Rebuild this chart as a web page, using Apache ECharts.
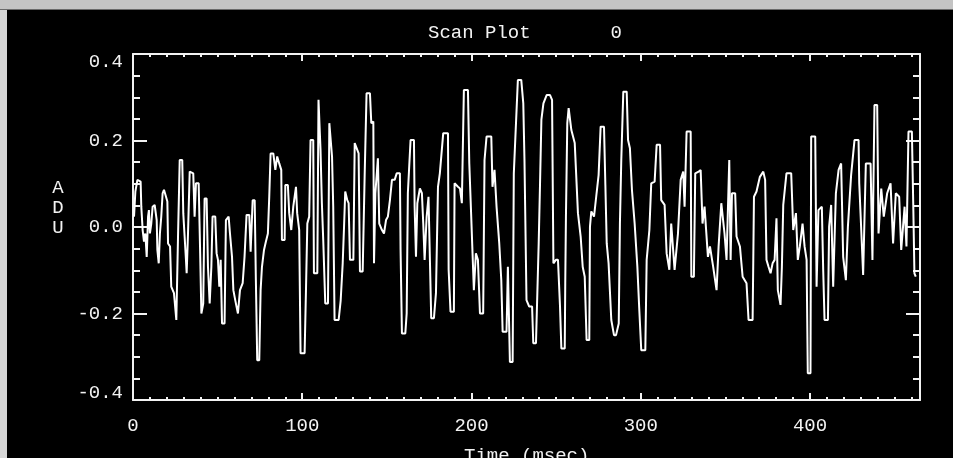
<!DOCTYPE html>
<html>
<head>
<meta charset="utf-8">
<script src="https://cdn.jsdelivr.net/npm/echarts@6/dist/echarts.min.js"></script>
<style>
  html, body { margin: 0; padding: 0; background: #000; }
  #chart { width: 953px; height: 458px; }
</style>
</head>
<body>
<div id="chart"></div>
<script>
// Scan trace: time in msec and signal in ADU
const timeMs = [
  0.6, 1.4, 2.6, 4.5, 4.9, 5.7, 6.5, 7.3, 8.1, 8.9, 9.4, 10.0, 10.8, 11.6, 12.8, 14.0, 14.4, 15.2, 15.9, 16.7,
  17.5, 18.3, 19.5, 20.3, 20.7, 21.9, 22.6, 24.2, 25.6, 26.6, 27.6, 29.1, 29.7, 30.5, 31.3, 31.7, 32.5, 33.5, 35.6, 36.4,
  37.2, 38.8, 39.6, 40.4, 41.5, 42.3, 43.5, 44.3, 45.3, 46.3, 47.0, 48.6, 49.4, 50.2, 51.0, 51.8, 52.6, 54.1, 54.9, 56.5,
  57.3, 58.5, 59.3, 60.4, 62.0, 63.2, 64.8, 65.9, 67.1, 68.7, 69.5, 70.7, 71.9, 72.6, 73.4, 74.6, 75.4, 76.2, 77.4, 78.5,
  79.7, 80.5, 81.3, 82.9, 84.1, 85.2, 86.4, 87.6, 88.0, 89.6, 90.0, 91.5, 92.3, 93.5, 94.7, 96.3, 97.0, 98.2, 99.0, 101.4,
  102.2, 103.0, 104.1, 104.9, 106.5, 106.9, 108.9, 109.6, 110.4, 110.8, 111.6, 112.4, 113.6, 115.2, 116.0, 116.8, 117.6, 118.3, 119.1, 121.5,
  122.7, 123.9, 124.7, 125.4, 126.6, 127.4, 128.2, 130.2, 131.0, 132.1, 133.3, 134.1, 135.7, 136.9, 138.0, 140.0, 140.8, 142.0, 142.4, 143.2,
  144.7, 145.5, 147.1, 148.3, 149.5, 150.6, 151.8, 153.0, 154.6, 155.8, 157.7, 158.1, 158.9, 160.9, 161.7, 162.4, 163.2, 164.0, 166.0, 166.4,
  167.2, 168.0, 169.5, 170.7, 171.5, 172.3, 173.5, 174.6, 176.2, 177.8, 179.0, 180.2, 181.3, 183.3, 186.1, 186.5, 187.6, 189.6, 190.0, 192.0,
  193.2, 194.3, 195.5, 197.9, 198.7, 199.8, 201.4, 202.6, 203.8, 205.0, 206.9, 207.7, 208.9, 211.7, 212.4, 213.6, 214.8, 216.4, 217.6, 218.4,
  220.7, 221.5, 222.7, 224.3, 225.0, 226.2, 227.4, 229.4, 230.6, 231.3, 232.5, 234.1, 235.8, 236.5, 238.1, 238.9, 239.7, 240.5, 241.3, 242.5,
  244.4, 246.4, 247.6, 248.4, 249.9, 251.1, 252.3, 253.1, 255.1, 255.4, 255.8, 256.6, 257.4, 259.0, 261.0, 262.9, 264.5, 265.7, 266.9, 268.0,
  269.6, 270.0, 270.8, 272.4, 273.9, 275.1, 276.3, 278.3, 279.1, 279.9, 281.0, 282.6, 284.2, 285.4, 287.0, 287.7, 288.5, 289.7, 291.7, 292.5,
  293.6, 294.8, 296.4, 298.0, 299.1, 300.3, 302.7, 303.5, 305.1, 306.2, 308.2, 309.4, 311.4, 312.1, 314.1, 315.3, 316.9, 318.0, 320.0, 322.0,
  323.6, 325.1, 325.9, 327.1, 329.5, 329.9, 331.4, 332.2, 334.2, 335.4, 336.5, 337.7, 339.7, 340.9, 342.8, 344.8, 346.0, 347.6, 349.5, 350.7,
  352.3, 353.1, 353.9, 355.8, 356.6, 358.6, 360.2, 362.5, 363.7, 366.1, 366.5, 366.9, 368.4, 370.4, 372.4, 373.5, 374.3, 375.5, 376.7, 377.9,
  379.1, 380.2, 381.0, 382.6, 383.4, 384.2, 386.1, 388.9, 390.1, 391.7, 392.8, 394.0, 395.6, 396.8, 398.0, 398.7, 400.3, 400.7, 403.1, 403.9,
  405.0, 407.0, 407.8, 408.6, 410.6, 411.3, 412.5, 413.7, 415.3, 416.9, 418.4, 419.6, 421.2, 422.4, 424.3, 426.3, 428.7, 429.1, 430.2, 431.4,
  433.0, 435.8, 436.9, 438.1, 439.7, 440.5, 442.1, 443.6, 445.6, 447.6, 449.1, 450.7, 452.7, 453.9, 455.9, 457.0, 458.2, 460.2, 461.0, 461.7,
  462.5
];

const adu = [
  0.024, 0.082, 0.109, 0.105, 0.047, -0.007, -0.034, -0.015, -0.069, 0.024, 0.039, -0.015, 0.008, 0.047, 0.051, 0.016, -0.053, -0.084, -0.015, 0.024,
  0.078, 0.086, 0.070, 0.059, -0.038, -0.045, -0.138, -0.153, -0.215, -0.022, 0.155, 0.155, 0.032, -0.022, -0.076, -0.107, -0.015, 0.128, 0.124, 0.024,
  0.101, 0.101, -0.045, -0.200, -0.177, 0.066, 0.066, -0.092, -0.177, -0.092, 0.024, 0.024, -0.061, -0.076, -0.138, -0.076, -0.223, -0.223, 0.016, 0.024,
  -0.015, -0.069, -0.146, -0.169, -0.200, -0.146, -0.130, -0.069, 0.028, 0.028, -0.057, 0.062, 0.062, -0.123, -0.308, -0.308, -0.146, -0.092, -0.053, -0.034,
  -0.015, 0.070, 0.170, 0.170, 0.132, 0.163, 0.147, 0.132, -0.030, -0.030, 0.097, 0.097, 0.032, -0.007, 0.047, 0.093, 0.032, -0.007, -0.292, -0.292,
  -0.146, 0.008, 0.024, 0.201, 0.201, -0.107, -0.107, 0.294, 0.294, 0.178, 0.055, -0.030, -0.177, -0.177, 0.240, 0.240, 0.163, 0.047, -0.215, -0.215,
  -0.170, -0.084, 0.001, 0.082, 0.062, 0.055, -0.076, -0.076, 0.194, 0.197, 0.170, -0.103, -0.103, 0.124, 0.309, 0.309, 0.240, 0.244, -0.084, 0.078,
  0.159, 0.008, -0.007, -0.015, 0.016, 0.024, 0.062, 0.109, 0.109, 0.124, 0.124, -0.053, -0.246, -0.246, -0.200, 0.078, 0.140, 0.201, 0.201, 0.047,
  -0.069, 0.055, 0.089, 0.078, 0.008, -0.076, 0.024, 0.070, -0.211, -0.211, -0.153, 0.093, 0.124, 0.217, 0.217, -0.099, -0.196, -0.196, 0.101, 0.093,
  0.089, 0.055, 0.317, 0.317, 0.147, 0.028, -0.146, -0.061, -0.076, -0.200, -0.200, 0.155, 0.209, 0.209, 0.093, 0.132, 0.047, -0.038, -0.123, -0.242,
  -0.242, -0.092, -0.312, -0.312, 0.124, 0.232, 0.340, 0.340, 0.286, 0.155, -0.169, -0.184, -0.184, -0.269, -0.269, -0.153, -0.038, 0.101, 0.248, 0.286,
  0.305, 0.305, 0.294, -0.084, -0.076, -0.076, -0.184, -0.281, -0.281, -0.130, 0.024, 0.240, 0.275, 0.224, 0.194, 0.032, -0.022, -0.092, -0.115, -0.261,
  -0.261, 0.001, 0.036, 0.024, 0.078, 0.120, 0.232, 0.232, 0.097, -0.038, -0.084, -0.215, -0.250, -0.250, -0.223, 0.008, 0.155, 0.313, 0.313, 0.201,
  0.182, 0.086, 0.008, -0.092, -0.188, -0.285, -0.285, -0.076, -0.007, 0.101, 0.105, 0.190, 0.190, 0.062, 0.051, -0.061, -0.099, 0.008, -0.099, -0.015,
  0.109, 0.128, 0.047, 0.221, 0.221, -0.115, -0.115, 0.124, 0.128, 0.132, 0.008, 0.047, -0.069, -0.045, -0.092, -0.146, -0.045, 0.055, -0.015, -0.076,
  0.155, -0.076, 0.078, 0.078, -0.022, -0.045, -0.115, -0.130, -0.215, -0.215, -0.076, 0.070, 0.082, 0.116, 0.128, 0.109, -0.076, -0.092, -0.107, -0.084,
  -0.076, 0.020, -0.146, -0.180, -0.092, 0.051, 0.124, 0.124, -0.007, 0.032, -0.076, -0.045, 0.008, -0.045, -0.076, -0.338, -0.338, 0.209, 0.209, -0.138,
  0.039, 0.047, -0.099, -0.215, -0.215, 0.001, 0.051, -0.138, 0.078, 0.132, 0.147, -0.069, -0.123, 0.001, 0.120, 0.201, 0.201, 0.101, 0.001, -0.111,
  0.147, 0.147, -0.076, 0.282, 0.282, -0.015, 0.089, 0.024, 0.078, 0.101, -0.038, 0.078, 0.070, -0.053, 0.047, -0.045, 0.221, 0.221, 0.055, -0.107,
  -0.115
];

// Axis ranges and labelled ticks
const xRange = [0, 465];
const xTickValues = [0, 100, 200, 300, 400];
const yRange = [-0.4, 0.4];
const yTickLabels = ['-0.4', '-0.2', '0.0', '0.2', '0.4'];

const FONT = '"Liberation Mono", "DejaVu Sans Mono", monospace';
const FG = '#f2f2f2';

const chart = echarts.init(document.getElementById('chart'), null, { renderer: 'canvas' });

function yLabel(v) {
  const idx = Math.round((v - yRange[0]) / 0.2);
  const txt = yTickLabels[idx];
  if (idx === yTickLabels.length - 1) return '{hi|' + txt + '}';
  if (idx === 0) return '{lo|' + txt + '}';
  return '{n|' + txt + '}';
}

const labelFont = { fontFamily: FONT, fontSize: 19, color: FG, lineHeight: 20 };
const frameLine = { show: true, onZero: false, lineStyle: { color: FG, width: 2 } };

function xAxisDef(position, withLabels) {
  return {
    type: 'value', position: position, min: xRange[0], max: xRange[1], interval: 100,
    axisLine: frameLine,
    splitLine: { show: false },
    axisTick: { inside: true, length: 7, lineStyle: { color: FG, width: 2 } },
    minorTick: { show: true, splitNumber: 10, length: 3, lineStyle: { color: FG, width: 2 } },
    axisLabel: withLabels ? Object.assign({
      margin: 16, showMaxLabel: false,
      formatter: v => (xTickValues.indexOf(v) >= 0 ? String(v) : '')
    }, labelFont) : { show: false }
  };
}

function yAxisDef(position, withLabels) {
  return {
    type: 'value', position: position, min: yRange[0], max: yRange[1], interval: 0.2,
    axisLine: frameLine,
    splitLine: { show: false },
    axisTick: { inside: true, length: 14, lineStyle: { color: FG, width: 2 } },
    minorTick: { show: true, splitNumber: 4, length: 7, lineStyle: { color: FG, width: 2 } },
    axisLabel: withLabels ? {
      margin: 10, align: 'right', formatter: yLabel,
      rich: {
        n: Object.assign({}, labelFont),
        hi: Object.assign({ padding: [15, 0, 0, 0] }, labelFont),
        lo: Object.assign({ padding: [0, 0, 15, 0] }, labelFont)
      }
    } : { show: false }
  };
}

const option = {
  animation: false,
  backgroundColor: '#000000',
  title: {
    text: 'Scan Plot       0',
    left: 428,
    top: 23,
    padding: 0,
    textStyle: { fontFamily: FONT, fontSize: 19, fontWeight: 'normal', color: FG, lineHeight: 20 }
  },
  grid: { left: 133, right: 33, top: 54, bottom: 58, containLabel: false },
  xAxis: [xAxisDef('bottom', true), xAxisDef('top', false)],
  yAxis: [yAxisDef('left', true), yAxisDef('right', false)],
  graphic: [
    // window frame strips
    { type: 'rect', left: 0, top: 0, shape: { width: 953, height: 9 }, style: { fill: '#c4c4c4' }, z: 100 },
    { type: 'rect', left: 0, top: 9, shape: { width: 953, height: 1 }, style: { fill: '#6a6a6a' }, z: 100 },
    { type: 'rect', left: 0, top: 10, shape: { width: 7, height: 448 }, style: { fill: '#d6d6d6' }, z: 100 },
    // axis titles
    {
      type: 'text', x: 58, y: 208, z: 100,
      style: { text: 'A\nD\nU', fontFamily: FONT, fontSize: 19, lineHeight: 20, fill: FG, align: 'center', verticalAlign: 'middle' }
    },
    {
      type: 'text', x: 464, y: 456, z: 100,
      style: { text: 'Time (msec)', fontFamily: FONT, fontSize: 19, lineHeight: 20, fill: FG, align: 'left', verticalAlign: 'middle' }
    }
  ],
  series: [{
    type: 'line',
    xAxisIndex: 0,
    yAxisIndex: 0,
    data: timeMs.map((t, i) => [t, adu[i]]),
    showSymbol: false,
    symbol: 'none',
    lineStyle: { color: '#ffffff', width: 2 },
    clip: true
  }]
};

chart.setOption(option);
</script>
</body>
</html>
